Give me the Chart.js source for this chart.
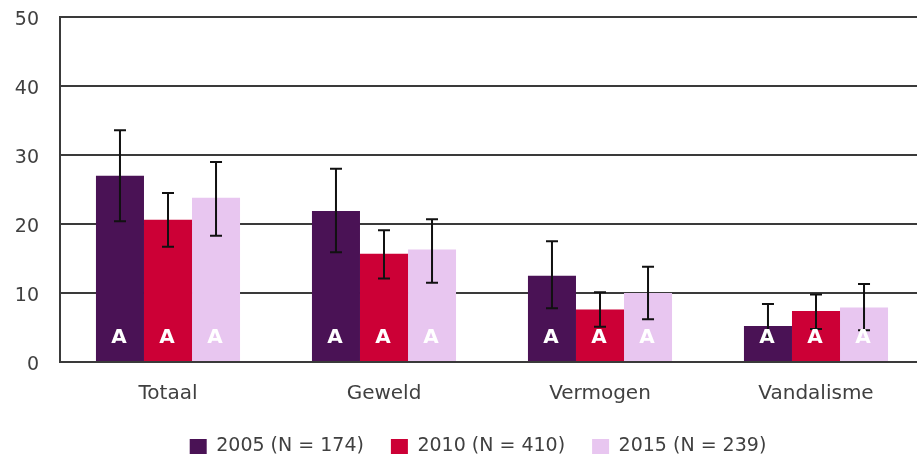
<!DOCTYPE html>
<html>
<head>
<meta charset="utf-8">
<script src="https://cdn.jsdelivr.net/npm/chart.js@4.4.1/dist/chart.umd.min.js"></script>
<style>
  html, body { margin: 0; padding: 0; background: #fff; overflow: hidden; }
  #wrap { width: 925px; height: 459px; }
</style>
</head>
<body>
<div id="wrap"><canvas id="chart"></canvas></div>
<script>
const categories = ['Totaal', 'Geweld', 'Vermogen', 'Vandalisme'];
const seriesLabels = ['2005 (N = 174)', '2010 (N = 410)', '2015 (N = 239)'];

const values2005 = [27.0, 21.9, 12.5, 5.2];
const values2010 = [20.6, 15.7, 7.6, 7.4];
const values2015 = [23.8, 16.3, 10.0, 7.9];

const low2005 = [20.4, 15.9, 7.8, 3.2];
const high2005 = [33.6, 28.0, 17.5, 8.4];
const low2010 = [16.7, 12.1, 5.1, 4.8];
const high2010 = [24.5, 19.1, 10.1, 9.8];
const low2015 = [18.3, 11.5, 6.2, 4.6];
const high2015 = [29.0, 20.7, 13.8, 11.3];

const letters2005 = ['A', 'A', 'A', 'A'];
const letters2010 = ['A', 'A', 'A', 'A'];
const letters2015 = ['A', 'A', 'A', 'A'];

const yTicks = [0, 10, 20, 30, 40, 50];

const colors = ['#4a1255', '#cc0036', '#e8c6f0'];
const gridColor = '#3a3a3a';
const textColor = '#404040';
const FONT = "'DejaVu Sans', Verdana, sans-serif";

const errorBarPlugin = {
  id: 'errorBars',
  afterDatasetsDraw(chart) {
    const { ctx } = chart;
    const y = chart.scales.y;
    ctx.save();
    ctx.strokeStyle = '#111';
    ctx.lineWidth = 2;
    chart.data.datasets.forEach((ds, di) => {
      const meta = chart.getDatasetMeta(di);
      meta.data.forEach((bar, i) => {
        const top = y.getPixelForValue(ds.high[i]);
        const bot = y.getPixelForValue(ds.low[i]);
        ctx.beginPath();
        ctx.moveTo(bar.x, top);
        ctx.lineTo(bar.x, bot);
        ctx.moveTo(bar.x - 6, top);
        ctx.lineTo(bar.x + 6, top);
        ctx.moveTo(bar.x - 6, bot);
        ctx.lineTo(bar.x + 6, bot);
        ctx.stroke();
      });
    });
    // significance letters near the base of each bar
    ctx.fillStyle = '#fff';
    ctx.font = `bold 20px ${FONT}`;
    ctx.textAlign = 'center';
    ctx.textBaseline = 'middle';
    chart.data.datasets.forEach((ds, di) => {
      const meta = chart.getDatasetMeta(di);
      meta.data.forEach((bar, i) => {
        ctx.fillText(ds.letters[i], bar.x - 1, y.getPixelForValue(0) - 24);
      });
    });
    ctx.restore();
  },
};

// legend sits a bit right of centre in the source
const legendShift = {
  id: 'legendShift',
  afterLayout(chart) {
    chart.legend.left += 16;
    chart.legend.right += 16;
    chart.legend.top += 3;
    chart.legend.bottom += 3;
  },
};

function makeDataset(label, data, color, low, high, letters) {
  return {
    label,
    data,
    low,
    high,
    letters,
    backgroundColor: color,
    borderWidth: 0,
    categoryPercentage: 0.667,
    barPercentage: 1.0,
  };
}

new Chart(document.getElementById('chart'), {
  type: 'bar',
  data: {
    labels: categories,
    datasets: [
      makeDataset(seriesLabels[0], values2005, colors[0], low2005, high2005, letters2005),
      makeDataset(seriesLabels[1], values2010, colors[1], low2010, high2010, letters2010),
      makeDataset(seriesLabels[2], values2015, colors[2], low2015, high2015, letters2015),
    ],
  },
  options: {
    responsive: true,
    maintainAspectRatio: false,
    animation: false,
    devicePixelRatio: 1,
    layout: { padding: { top: 17, left: 0, right: 1, bottom: 0 } },
    plugins: {
      tooltip: { enabled: false },
      legend: {
        position: 'bottom',
        maxHeight: 52,
        labels: {
          color: textColor,
          font: { family: FONT, size: 19 },
          boxWidth: 17,
          boxHeight: 15,
          padding: 27,
        },
      },
    },
    scales: {
      x: {
        grid: { display: false, drawTicks: false },
        border: { display: true, color: gridColor, width: 2 },
        ticks: { color: textColor, font: { family: FONT, size: 20 }, padding: 20 },
        afterFit: (scale) => {
          scale.height = 45;
          scale.paddingLeft = 0;
          scale.paddingRight = 0;
        },
      },
      y: {
        min: 0,
        max: 50,
        afterBuildTicks: (scale) => { scale.ticks = yTicks.map((v) => ({ value: v })); },
        grid: { color: gridColor, lineWidth: 2, drawTicks: false },
        border: { display: true, color: gridColor, width: 2 },
        ticks: { color: textColor, font: { family: FONT, size: 19 }, padding: 21, labelOffset: 3 },
        afterFit: (scale) => {
          scale.width = 60;
          scale.paddingTop = 0;
          scale.paddingBottom = 0;
        },
      },
    },
  },
  plugins: [errorBarPlugin, legendShift],
});
</script>
</body>
</html>
